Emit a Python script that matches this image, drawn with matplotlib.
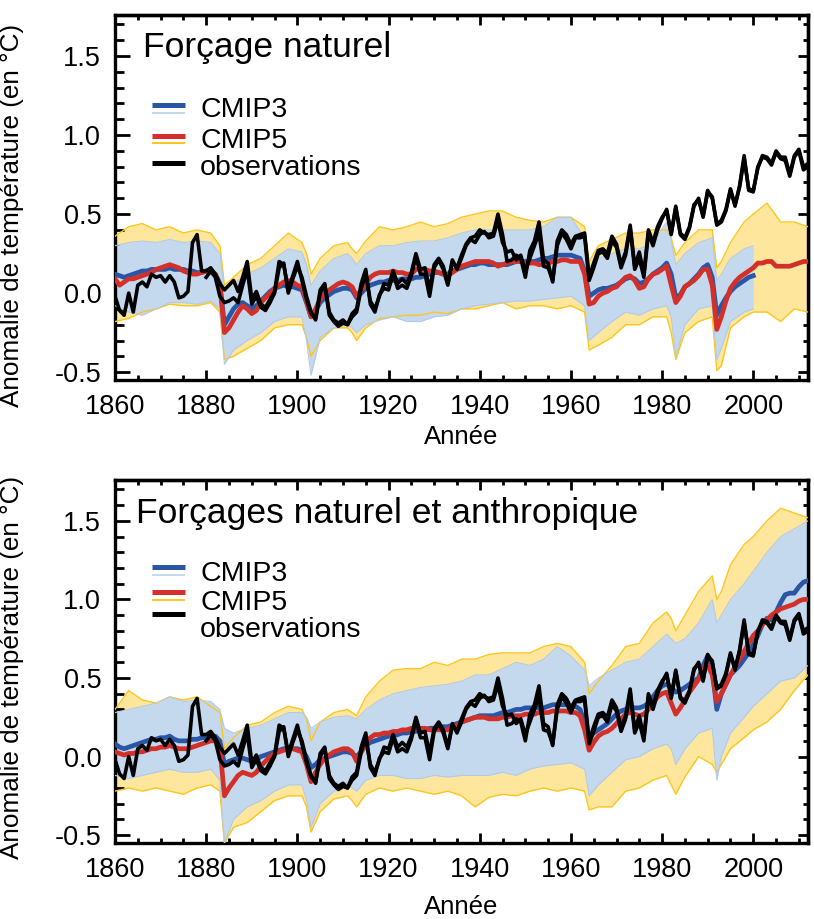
import numpy as np
import matplotlib.pyplot as plt
from matplotlib.ticker import MultipleLocator, FormatStrFormatter

plt.rcParams['font.family'] = ['Liberation Sans', 'DejaVu Sans']
plt.rcParams['axes.unicode_minus'] = False

# annees
years = np.arange(1860, 2013)
years_obs_b = np.arange(1880, 2013)
years_cmip3_nat = np.arange(1860, 2001)

# observations (deux jeux de donnees)
obs_a = [-0.02, -0.11, -0.14, 0.00, -0.12, 0.05, 0.07, 0.04, 0.12, 0.10,
         0.11, 0.07, 0.11, 0.07, -0.03, -0.02, 0.01, 0.32, 0.37, 0.14,
         0.14, 0.16, 0.12, 0.06, 0.02, 0.05, 0.08, 0.01, 0.10, 0.20,
         -0.04, 0.01, -0.07, -0.09, -0.04, 0.01, 0.20, 0.18, 0.02, 0.11,
         0.20, 0.08, -0.04, -0.13, -0.16, 0.02, 0.06, -0.12, -0.17, -0.19,
         -0.17, -0.20, -0.13, -0.10, 0.06, 0.15, -0.07, -0.12, -0.01, 0.03,
         0.02, 0.12, 0.03, 0.05, 0.03, 0.11, 0.23, 0.12, 0.12, -0.02,
         0.16, 0.21, 0.15, 0.05, 0.20, 0.16, 0.24, 0.31, 0.35, 0.36,
         0.40, 0.38, 0.37, 0.38, 0.50, 0.37, 0.20, 0.21, 0.24, 0.22,
         0.10, 0.27, 0.33, 0.45, 0.21, 0.19, 0.07, 0.33, 0.40, 0.37,
         0.31, 0.36, 0.37, 0.38, 0.10, 0.19, 0.27, 0.28, 0.25, 0.36,
         0.31, 0.18, 0.26, 0.43, 0.17, 0.26, 0.12, 0.40, 0.32, 0.42,
         0.48, 0.52, 0.38, 0.55, 0.38, 0.35, 0.42, 0.56, 0.59, 0.49,
         0.65, 0.60, 0.44, 0.46, 0.53, 0.66, 0.55, 0.68, 0.87, 0.65,
         0.64, 0.80, 0.86, 0.85, 0.81, 0.89, 0.85, 0.84, 0.74, 0.86,
         0.90, 0.78, 0.80]
obs_b = [0.10, 0.14, 0.10, -0.02, -0.06, -0.05, -0.03, -0.06, 0.05, 0.15,
         -0.07, -0.02, -0.09, -0.11, -0.06, 0.00, 0.16, 0.19, 0.00, 0.09,
         0.17, 0.10, -0.02, -0.12, -0.17, 0.00, 0.05, -0.14, -0.18, -0.21,
         -0.19, -0.20, -0.15, -0.12, 0.03, 0.12, -0.05, -0.10, -0.02, 0.06,
         0.05, 0.14, 0.06, 0.09, 0.06, 0.13, 0.25, 0.15, 0.16, 0.02,
         0.18, 0.22, 0.17, 0.06, 0.21, 0.15, 0.22, 0.30, 0.34, 0.32,
         0.37, 0.39, 0.35, 0.36, 0.46, 0.32, 0.26, 0.27, 0.21, 0.24,
         0.14, 0.22, 0.30, 0.38, 0.17, 0.16, 0.08, 0.30, 0.38, 0.34,
         0.28, 0.35, 0.35, 0.36, 0.08, 0.16, 0.25, 0.26, 0.22, 0.33,
         0.29, 0.16, 0.24, 0.41, 0.15, 0.22, 0.10, 0.38, 0.30, 0.40,
         0.47, 0.53, 0.37, 0.54, 0.37, 0.34, 0.41, 0.55, 0.60, 0.48,
         0.64, 0.61, 0.43, 0.45, 0.52, 0.65, 0.56, 0.67, 0.85, 0.66,
         0.65, 0.79, 0.87, 0.86, 0.82, 0.90, 0.86, 0.86, 0.75, 0.87,
         0.91, 0.80, 0.82]

# moyennes des modeles, forcage naturel
cmip5_nat = [0.09, 0.05, 0.07, 0.09, 0.09, 0.10, 0.11, 0.12, 0.13, 0.15,
             0.16, 0.17, 0.18, 0.17, 0.16, 0.14, 0.13, 0.12, 0.12, 0.13,
             0.14, 0.14, 0.12, 0.05, -0.25, -0.22, -0.17, -0.12, -0.08, -0.10,
             -0.13, -0.11, -0.06, -0.03, 0.00, 0.03, 0.05, 0.07, 0.08, 0.07,
             0.05, 0.04, -0.05, -0.15, -0.10, -0.04, 0.00, 0.02, 0.04, 0.06,
             0.07, 0.06, 0.04, -0.02, 0.02, 0.06, 0.10, 0.12, 0.13, 0.13,
             0.13, 0.14, 0.13, 0.13, 0.12, 0.12, 0.15, 0.15, 0.15, 0.14,
             0.14, 0.13, 0.12, 0.11, 0.13, 0.15, 0.17, 0.18, 0.19, 0.20,
             0.20, 0.20, 0.20, 0.19, 0.17, 0.18, 0.19, 0.20, 0.20, 0.20,
             0.19, 0.19, 0.19, 0.18, 0.18, 0.19, 0.20, 0.20, 0.21, 0.21,
             0.20, 0.20, 0.20, 0.12, -0.07, -0.06, -0.02, 0.00, 0.01, 0.03,
             0.04, 0.07, 0.10, 0.11, 0.08, 0.03, 0.04, 0.09, 0.12, 0.13,
             0.15, 0.17, 0.05, -0.06, -0.02, 0.04, 0.06, 0.08, 0.11, 0.15,
             0.15, 0.05, -0.23, -0.15, -0.05, 0.03, 0.07, 0.10, 0.12, 0.14,
             0.16, 0.19, 0.19, 0.20, 0.20, 0.17, 0.17, 0.17, 0.17, 0.18,
             0.19, 0.20, 0.20]
cmip3_nat = [0.12, 0.11, 0.10, 0.11, 0.12, 0.13, 0.14, 0.14, 0.15, 0.15,
             0.15, 0.15, 0.16, 0.15, 0.15, 0.15, 0.14, 0.14, 0.13, 0.13,
             0.14, 0.13, 0.12, 0.06, -0.20, -0.15, -0.10, -0.07, -0.06, -0.08,
             -0.10, -0.08, -0.05, -0.02, 0.01, 0.03, 0.04, 0.05, 0.04, 0.04,
             0.03, 0.02, -0.06, -0.15, -0.11, -0.06, -0.03, -0.01, 0.01, 0.02,
             0.03, 0.03, 0.02, -0.03, 0.00, 0.03, 0.05, 0.06, 0.07, 0.07,
             0.08, 0.08, 0.08, 0.09, 0.09, 0.09, 0.10, 0.10, 0.11, 0.12,
             0.13, 0.13, 0.12, 0.12, 0.14, 0.15, 0.16, 0.17, 0.18, 0.18,
             0.19, 0.19, 0.18, 0.18, 0.18, 0.18, 0.18, 0.19, 0.20, 0.20,
             0.20, 0.20, 0.20, 0.21, 0.22, 0.22, 0.23, 0.24, 0.24, 0.24,
             0.24, 0.23, 0.22, 0.14, -0.02, 0.00, 0.02, 0.03, 0.03, 0.04,
             0.05, 0.07, 0.09, 0.10, 0.09, 0.06, 0.07, 0.09, 0.12, 0.14,
             0.16, 0.19, 0.12, -0.03, -0.01, 0.04, 0.06, 0.09, 0.12, 0.16,
             0.18, 0.10, -0.14, -0.08, -0.03, 0.01, 0.04, 0.06, 0.08, 0.10,
             0.11]

# moyennes des modeles, forcages naturel et anthropique
cmip5_all = [0.03, 0.02, 0.01, 0.02, 0.02, 0.03, 0.03, 0.04, 0.05, 0.05,
             0.06, 0.06, 0.07, 0.06, 0.05, 0.05, 0.05, 0.06, 0.07, 0.08,
             0.09, 0.10, 0.10, 0.06, -0.25, -0.20, -0.16, -0.12, -0.10, -0.11,
             -0.12, -0.10, -0.06, -0.03, 0.00, 0.02, 0.03, 0.04, 0.05, 0.05,
             0.04, 0.03, -0.05, -0.16, -0.10, -0.05, -0.01, 0.01, 0.03, 0.04,
             0.05, 0.05, 0.03, -0.03, 0.03, 0.09, 0.12, 0.14, 0.14, 0.15,
             0.15, 0.16, 0.16, 0.17, 0.17, 0.18, 0.18, 0.18, 0.18, 0.17,
             0.17, 0.17, 0.17, 0.17, 0.19, 0.20, 0.22, 0.23, 0.24, 0.25,
             0.25, 0.25, 0.24, 0.24, 0.24, 0.25, 0.25, 0.26, 0.26, 0.26,
             0.27, 0.27, 0.27, 0.28, 0.28, 0.28, 0.29, 0.29, 0.29, 0.29,
             0.28, 0.28, 0.26, 0.17, 0.04, 0.09, 0.13, 0.15, 0.16, 0.18,
             0.21, 0.24, 0.27, 0.28, 0.27, 0.26, 0.27, 0.30, 0.34, 0.38,
             0.40, 0.41, 0.34, 0.27, 0.31, 0.36, 0.41, 0.45, 0.49, 0.56,
             0.58, 0.52, 0.35, 0.40, 0.46, 0.52, 0.57, 0.62, 0.67, 0.72,
             0.77, 0.80, 0.84, 0.87, 0.90, 0.92, 0.94, 0.95, 0.96, 0.97,
             0.99, 1.00, 1.00]
cmip3_all = [0.08, 0.06, 0.05, 0.06, 0.07, 0.08, 0.09, 0.10, 0.11, 0.11,
             0.12, 0.12, 0.13, 0.11, 0.10, 0.10, 0.10, 0.11, 0.11, 0.12,
             0.12, 0.13, 0.13, 0.10, -0.05, -0.03, -0.02, -0.01, -0.01, -0.02,
             -0.03, -0.02, 0.00, 0.01, 0.02, 0.03, 0.04, 0.05, 0.05, 0.05,
             0.05, 0.04, 0.00, -0.07, -0.05, -0.02, -0.01, 0.00, 0.01, 0.02,
             0.03, 0.03, 0.02, 0.00, 0.03, 0.07, 0.09, 0.10, 0.11, 0.12,
             0.13, 0.13, 0.14, 0.15, 0.15, 0.16, 0.16, 0.17, 0.17, 0.18,
             0.18, 0.19, 0.19, 0.19, 0.20, 0.21, 0.22, 0.23, 0.24, 0.25,
             0.26, 0.26, 0.26, 0.26, 0.27, 0.28, 0.28, 0.29, 0.30, 0.30,
             0.31, 0.31, 0.31, 0.31, 0.31, 0.32, 0.33, 0.33, 0.33, 0.33,
             0.32, 0.32, 0.30, 0.22, 0.12, 0.15, 0.17, 0.19, 0.21, 0.24,
             0.27, 0.29, 0.30, 0.31, 0.31, 0.31, 0.32, 0.34, 0.38, 0.42,
             0.45, 0.46, 0.44, 0.41, 0.42, 0.44, 0.46, 0.48, 0.50, 0.58,
             0.64, 0.55, 0.30, 0.40, 0.46, 0.52, 0.55, 0.58, 0.62, 0.66,
             0.71, 0.77, 0.84, 0.88, 0.87, 0.92, 0.98, 1.03, 1.04, 1.04,
             1.08, 1.11, 1.12]

# enveloppes des ensembles (min / max)
env_years = [1860, 1863, 1866, 1869, 1872, 1875, 1878, 1881, 1883, 1884,
             1886, 1889, 1892, 1895, 1898, 1901, 1902, 1903, 1905, 1908,
             1911, 1912, 1913, 1915, 1918, 1921, 1924, 1927, 1930, 1933,
             1936, 1939, 1942, 1945, 1948, 1951, 1954, 1957, 1960, 1963,
             1964, 1966, 1969, 1972, 1975, 1978, 1981, 1982, 1983, 1985,
             1988, 1991, 1992, 1993, 1995, 1998, 2000, 2003, 2006, 2009,
             2012]

cmip5_nat_hi = [0.36, 0.42, 0.44, 0.40, 0.42, 0.38, 0.40, 0.38, 0.30, 0.05,
                0.10, 0.18, 0.22, 0.30, 0.38, 0.32, 0.25, 0.12, 0.22, 0.30,
                0.32, 0.28, 0.25, 0.33, 0.42, 0.40, 0.42, 0.45, 0.42, 0.44,
                0.48, 0.50, 0.52, 0.52, 0.48, 0.46, 0.45, 0.48, 0.48, 0.42,
                0.20, 0.30, 0.34, 0.38, 0.38, 0.40, 0.40, 0.35, 0.24, 0.32,
                0.40, 0.40, 0.16, 0.20, 0.32, 0.45, 0.50, 0.57, 0.45, 0.45,
                0.42]
cmip5_nat_lo = [-0.18, -0.16, -0.12, -0.10, -0.07, -0.08, -0.08, -0.06, -0.12, -0.42,
                -0.40, -0.35, -0.30, -0.22, -0.20, -0.20, -0.28, -0.40, -0.30, -0.22,
                -0.22, -0.25, -0.30, -0.22, -0.16, -0.15, -0.14, -0.14, -0.12, -0.13,
                -0.10, -0.10, -0.08, -0.06, -0.10, -0.08, -0.08, -0.10, -0.08, -0.12,
                -0.36, -0.33, -0.28, -0.20, -0.20, -0.15, -0.15, -0.25, -0.42, -0.25,
                -0.18, -0.15, -0.49, -0.46, -0.22, -0.15, -0.12, -0.12, -0.18, -0.10,
                -0.12]
cmip3_nat_hi = [0.30, 0.32, 0.33, 0.32, 0.34, 0.32, 0.33, 0.32, 0.25, 0.02,
                0.06, 0.12, 0.16, 0.22, 0.28, 0.26, 0.18, 0.05, 0.14, 0.22,
                0.25, 0.22, 0.18, 0.25, 0.30, 0.30, 0.32, 0.33, 0.33, 0.35,
                0.38, 0.40, 0.40, 0.40, 0.40, 0.40, 0.42, 0.48, 0.48, 0.35,
                0.16, 0.22, 0.25, 0.28, 0.28, 0.32, 0.45, 0.33, 0.18, 0.25,
                0.32, 0.35, 0.08, 0.12, 0.22, 0.28, 0.30]
cmip3_nat_lo = [-0.08, -0.12, -0.14, -0.10, -0.06, -0.06, -0.07, -0.05, -0.10, -0.45,
                -0.36, -0.30, -0.25, -0.18, -0.15, -0.15, -0.30, -0.52, -0.28, -0.22,
                -0.20, -0.22, -0.25, -0.20, -0.17, -0.15, -0.18, -0.18, -0.15, -0.14,
                -0.10, -0.08, -0.07, -0.06, -0.05, -0.05, -0.04, -0.03, -0.02, -0.08,
                -0.30, -0.25, -0.18, -0.12, -0.14, -0.10, -0.08, -0.15, -0.40, -0.20,
                -0.10, -0.08, -0.42, -0.35, -0.18, -0.12, -0.10]

cmip5_all_hi = [0.30, 0.42, 0.36, 0.34, 0.38, 0.36, 0.38, 0.32, 0.28, 0.05,
                0.12, 0.20, 0.22, 0.28, 0.32, 0.30, 0.24, 0.10, 0.22, 0.28,
                0.30, 0.28, 0.26, 0.38, 0.48, 0.55, 0.56, 0.56, 0.60, 0.58,
                0.62, 0.62, 0.65, 0.66, 0.66, 0.66, 0.70, 0.72, 0.70, 0.60,
                0.40, 0.48, 0.58, 0.70, 0.72, 0.85, 0.92, 0.88, 0.80, 0.90,
                1.05, 1.15, 1.00, 1.05, 1.22, 1.35, 1.40, 1.50, 1.58, 1.55,
                1.52]
cmip5_all_lo = [-0.22, -0.20, -0.22, -0.20, -0.22, -0.24, -0.20, -0.18, -0.22, -0.55,
                -0.45, -0.42, -0.35, -0.28, -0.25, -0.25, -0.32, -0.48, -0.35, -0.27,
                -0.25, -0.28, -0.32, -0.24, -0.20, -0.22, -0.20, -0.22, -0.24, -0.22,
                -0.25, -0.32, -0.26, -0.24, -0.25, -0.22, -0.20, -0.22, -0.20, -0.22,
                -0.34, -0.32, -0.32, -0.22, -0.20, -0.15, -0.12, -0.18, -0.24, -0.13,
                0.00, -0.05, -0.10, -0.05, 0.05, 0.12, 0.17, 0.22, 0.30, 0.42,
                0.52]
cmip3_all_hi = [0.28, 0.30, 0.32, 0.34, 0.38, 0.35, 0.36, 0.35, 0.30, 0.18,
                0.15, 0.18, 0.20, 0.24, 0.28, 0.28, 0.25, 0.18, 0.22, 0.25,
                0.26, 0.25, 0.24, 0.30, 0.36, 0.40, 0.42, 0.44, 0.45, 0.46,
                0.48, 0.52, 0.52, 0.56, 0.60, 0.58, 0.62, 0.70, 0.64, 0.55,
                0.45, 0.50, 0.55, 0.60, 0.62, 0.70, 0.78, 0.75, 0.72, 0.75,
                0.85, 1.00, 0.85, 0.90, 1.00, 1.10, 1.18, 1.30, 1.40, 1.45,
                1.50]
cmip3_all_lo = [-0.12, -0.14, -0.12, -0.10, -0.08, -0.10, -0.10, -0.08, -0.15, -0.55,
                -0.40, -0.32, -0.28, -0.22, -0.18, -0.18, -0.28, -0.45, -0.30, -0.22,
                -0.18, -0.20, -0.22, -0.15, -0.12, -0.12, -0.14, -0.14, -0.12, -0.13,
                -0.12, -0.12, -0.12, -0.10, -0.12, -0.08, -0.06, -0.05, -0.04, -0.08,
                -0.25, -0.18, -0.10, -0.02, 0.00, 0.05, 0.08, 0.05, -0.05, 0.05,
                0.15, 0.18, -0.15, 0.00, 0.15, 0.25, 0.32, 0.40, 0.48, 0.50,
                0.58]

titles = ['Forçage naturel', 'Forçages naturel et anthropique']
legend_labels = ['CMIP3', 'CMIP5', 'observations']

BLUE = '#2a56a6'
LIGHT_BLUE = '#c5d9ee'
RED = '#d4302a'
YELLOW = '#fdc61e'
YELLOW_FILL = '#fee79c'


def style_axes(ax):
    ax.set_xlim(1860, 2012)
    ax.set_ylim(-0.55, 1.76)
    ax.xaxis.set_major_locator(MultipleLocator(20))
    ax.xaxis.set_minor_locator(MultipleLocator(5))
    ax.yaxis.set_major_locator(MultipleLocator(0.5))
    ax.yaxis.set_minor_locator(MultipleLocator(0.1))
    ax.yaxis.set_major_formatter(FormatStrFormatter('%.1f'))
    for s in ax.spines.values():
        s.set_linewidth(2.4)
    ax.tick_params(axis='x', which='major', direction='in', length=7, width=2,
                   labelsize=19.5, pad=10)
    ax.tick_params(axis='x', which='minor', direction='in', length=3.5, width=2)
    ax.tick_params(axis='y', which='major', direction='in', length=11, width=2,
                   labelsize=19.5, pad=10)
    ax.tick_params(axis='y', which='minor', direction='in', length=6.5, width=2)

    # graduations du haut et de droite, plus courtes
    top = ax.secondary_xaxis('top')
    top.xaxis.set_major_locator(MultipleLocator(20))
    top.xaxis.set_minor_locator(MultipleLocator(5))
    top.tick_params(which='major', direction='in', length=7, width=2, labeltop=False)
    top.tick_params(which='minor', direction='in', length=3.5, width=2)
    top.spines['top'].set_linewidth(2.4)
    right = ax.secondary_yaxis('right')
    right.yaxis.set_major_locator(MultipleLocator(0.5))
    right.yaxis.set_minor_locator(MultipleLocator(0.1))
    right.tick_params(which='major', direction='in', length=7, width=2, labelright=False)
    right.tick_params(which='minor', direction='in', length=3.5, width=2)
    right.spines['right'].set_linewidth(2.4)


def draw_legend(ax, ys):
    # ys : positions (fraction d'axe) des traits et des textes
    y3, y3b, y5, y5b, yo, t3, t5, to = ys
    x0, x1, xt = 0.053, 0.101, 0.1227
    kw = dict(transform=ax.transAxes, solid_capstyle='butt', clip_on=False)
    ax.plot([x0, x1], [y3, y3], color=BLUE, lw=3.6, **kw)
    ax.plot([x0, x1], [y3b, y3b], color=LIGHT_BLUE, lw=1.4, **kw)
    ax.plot([x0, x1], [y5, y5], color=RED, lw=3.6, **kw)
    ax.plot([x0, x1], [y5b, y5b], color=YELLOW, lw=1.4, **kw)
    ax.plot([x0, x1], [yo, yo], color='black', lw=3.6, **kw)
    for lab, yt in zip(legend_labels, [t3, t5, to]):
        ax.text(xt, yt, lab, transform=ax.transAxes, fontsize=20.5, va='baseline')


def draw_panel(ax, c5_lo, c5_hi, c3_years, c3_lo, c3_hi, c3_mean_years, c3_mean, c5_mean):
    ax.fill_between(env_years, c5_lo, c5_hi, color=YELLOW_FILL, lw=0, zorder=1)
    ax.fill_between(c3_years, c3_lo, c3_hi, color=LIGHT_BLUE, lw=0, zorder=2)
    ax.plot(env_years, c5_hi, color=YELLOW, lw=1.0, zorder=3)
    ax.plot(env_years, c5_lo, color=YELLOW, lw=1.0, zorder=3)
    ax.plot(c3_years, c3_hi, color='#b3cbe6', lw=0.8, zorder=3)
    ax.plot(c3_years, c3_lo, color='#b3cbe6', lw=0.8, zorder=3)
    ax.plot(c3_mean_years, c3_mean, color=BLUE, lw=3.4, zorder=4)
    ax.plot(years, c5_mean, color=RED, lw=3.4, zorder=5)
    ax.plot(years, obs_a, color='black', lw=2.6, zorder=6)
    ax.plot(years_obs_b, obs_b, color='black', lw=2.6, zorder=6)


fig = plt.figure(figsize=(8.14, 9.19), dpi=100)
ax1 = fig.add_axes([0.1413, 0.5865, 0.8513, 0.3972])
ax2 = fig.add_axes([0.1413, 0.0827, 0.8513, 0.3950])

# Forcage naturel
n3 = len(cmip3_nat_hi)
draw_panel(ax1, cmip5_nat_lo, cmip5_nat_hi, env_years[:n3], cmip3_nat_lo, cmip3_nat_hi,
           years_cmip3_nat, cmip3_nat, cmip5_nat)
style_axes(ax1)
ax1.text(0.040, 0.885, titles[0], transform=ax1.transAxes, fontsize=25.5, va='baseline')
draw_legend(ax1, [0.753, 0.732, 0.668, 0.649, 0.595, 0.720, 0.636, 0.562])

# Forcages naturel et anthropique
draw_panel(ax2, cmip5_all_lo, cmip5_all_hi, env_years, cmip3_all_lo, cmip3_all_hi,
           years, cmip3_all, cmip5_all)
style_axes(ax2)
ax2.text(0.031, 0.8815, titles[1], transform=ax2.transAxes, fontsize=25.5, va='baseline')
draw_legend(ax2, [0.760, 0.738, 0.691, 0.669, 0.631, 0.721, 0.642, 0.567])

for ax, ly, lp in [(ax1, 0.452, 4), (ax2, 0.485, 9)]:
    ax.set_xlabel('Année', fontsize=18.5, labelpad=lp)
    ax.set_ylabel('Anomalie de température (en °C)', fontsize=18.8)
    ax.yaxis.set_label_coords(-0.131, ly)

fig.savefig('out.png', dpi=100)
